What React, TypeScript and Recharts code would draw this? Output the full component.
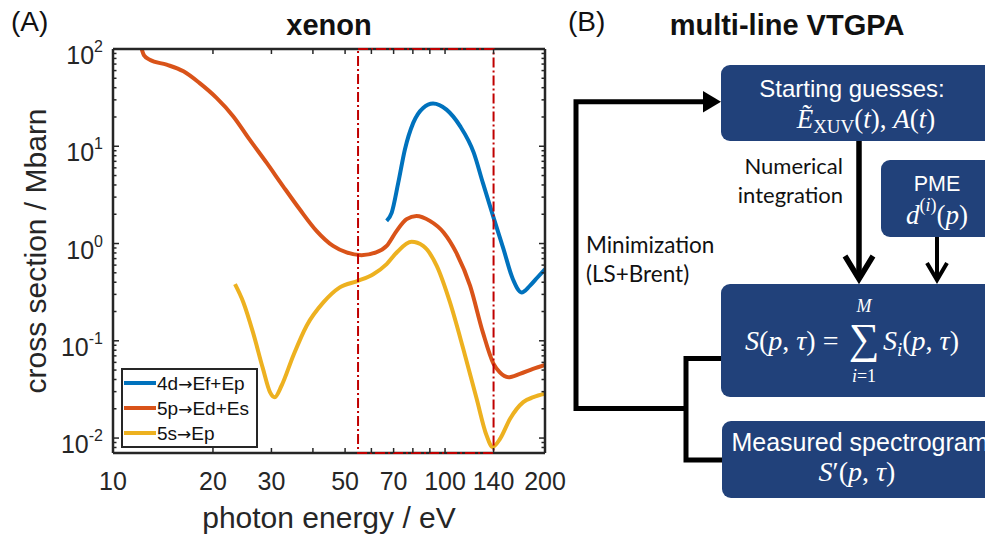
import { LineChart, Line, XAxis, YAxis, ReferenceArea, Legend } from "recharts";

// photoionisation cross sections of xenon
const energy4d = [66.7, 69.1, 72.3, 75.7, 80.2, 85.9, 92, 101, 111, 122, 130, 140, 150, 160, 170, 180, 190, 200];
const sigma4d = [1.71, 2.08, 4.22, 9.27, 17.4, 24.8, 27.5, 23.8, 16.1, 8.6, 4.2, 1.85, 0.875, 0.431, 0.314, 0.367, 0.45, 0.544];

const energy5p = [12.2, 12.4, 12.9, 14.5, 16.3, 18.2, 20.5, 23, 25.8, 29, 32.5, 36.5, 41, 46, 50.5, 56, 62, 66.7, 71.5, 76.6, 82, 90, 99, 108, 119, 130, 140, 146, 155, 168, 184, 200];
const sigma5p = [100, 86, 77.6, 69, 58.9, 44.8, 31.4, 20.4, 11.7, 6.78, 3.9, 2.25, 1.35, 0.944, 0.809, 0.759, 0.809, 0.944, 1.35, 1.78, 1.92, 1.71, 1.3, 0.81, 0.367, 0.122, 0.0578, 0.0475, 0.0422, 0.0457, 0.0514, 0.0565];

const energy5s = [23.3, 24.7, 26.4, 28.3, 29.7, 30.7, 32.2, 34.9, 38.3, 43, 48.2, 54.7, 60.8, 66.7, 71.5, 79.3, 85.9, 94.4, 103.5, 113.5, 124.5, 133.4, 139, 146.4, 157, 172, 184.5, 200];
const sigma5s = [0.382, 0.248, 0.122, 0.0514, 0.0297, 0.0263, 0.0347, 0.0703, 0.143, 0.248, 0.354, 0.413, 0.484, 0.614, 0.809, 1.04, 0.944, 0.589, 0.248, 0.0824, 0.0253, 0.0106, 0.0081, 0.0098, 0.0158, 0.0234, 0.0263, 0.0285];

const xTicks = [10, 20, 30, 40, 50, 60, 70, 80, 90, 100, 140, 200];
const xLabels = [10, 20, 30, 50, 70, 100, 140, 200];
const yMajor = [0.01, 0.1, 1, 10, 100];
const yMinorSteps = [2, 3, 4, 5, 6, 7, 8, 9];
const xDomain = [10, 200];
const yDomain = [0.00702, 100];
const windowEnergy = [54.7, 140]; // red dashed box

const yTicks: number[] = [...yMajor];
[0.001, 0.01, 0.1, 1, 10].forEach((d) =>
  yMinorSteps.forEach((m) => {
    const v = m * d;
    if (v >= yDomain[0] && v < 100) yTicks.push(v);
  })
);

const toRows = (e: number[], s: number[]) => e.map((x, i) => ({ e: x, s: s[i] }));

const AX = "#262626";
const SANS = "'Liberation Sans', Arial, sans-serif";
const SERIF = "'Liberation Serif', 'Times New Roman', serif";
const CAL = "Lato, 'Open Sans', sans-serif";
const BOX = "#21417a";

const BottomTick = ({ x, y, payload }: any) => {
  const major = xLabels.includes(payload.value);
  return (
    <g>
      <line x1={x} x2={x} y1={y} y2={y - 5} stroke={AX} strokeWidth={1.5} />
      {major && (
        <text x={x} y={y + 37} textAnchor="middle" fontSize={25} fontFamily={SANS} fill={AX}>
          {payload.value}
        </text>
      )}
    </g>
  );
};

const TopTick = ({ x, y }: any) => <line x1={x} x2={x} y1={y} y2={y + 5} stroke={AX} strokeWidth={1.5} />;

const LeftTick = ({ x, y, payload }: any) => {
  const major = yMajor.includes(payload.value);
  const exp = Math.round(Math.log10(payload.value));
  return (
    <g>
      <line x1={x} x2={x + (major ? 6 : 3.5)} y1={y} y2={y} stroke={AX} strokeWidth={1.5} />
      {major && (
        <text x={x - 10} y={y + 15} textAnchor="end" fontSize={25} fontFamily={SANS} fill={AX}>
          10
          <tspan fontSize={16} dy={-12}>
            {exp}
          </tspan>
        </text>
      )}
    </g>
  );
};

const RightTick = ({ x, y, payload }: any) => {
  const major = yMajor.includes(payload.value);
  return <line x1={x} x2={x - (major ? 6 : 3.5)} y1={y} y2={y} stroke={AX} strokeWidth={1.5} />;
};

const renderLegend = (props: any) => {
  const items = props.payload || [];
  return (
    <svg width={137} height={80} style={{ display: "block" }}>
      <rect x={1} y={1} width={135} height={78} fill="#fff" stroke={AX} strokeWidth={2} />
      {items.map((it: any, i: number) => {
        const [from, to] = String(it.value).split("→");
        return (
          <g key={it.value}>
            <line x1={3} x2={35} y1={15 + 25 * i} y2={15 + 25 * i} stroke={it.color} strokeWidth={4} />
            <text x={36} y={22 + 25 * i} fontSize={19} fontFamily={SANS} fill="#111">
              {from}
              <tspan fontFamily="'DejaVu Sans', sans-serif" fontSize={17}>→</tspan>
              {to}
            </text>
          </g>
        );
      })}
    </svg>
  );
};

function Flowchart() {
  return (
    <svg width={985} height={538} style={{ position: "absolute", left: 0, top: 0, pointerEvents: "none" }}>
      {/* panel A annotations */}
      <text x={11} y={31} fontSize={28} fontFamily={SANS} fill="#111">(A)</text>
      <text x={329} y={35} fontSize={29} fontWeight="bold" fontFamily={SANS} textAnchor="middle" fill="#111">xenon</text>
      <text x={46} y={251} fontSize={30} fontFamily={SANS} textAnchor="middle" fill={AX} transform="rotate(-90 46 251)">
        cross section / Mbarn
      </text>
      <text x={329} y={528} fontSize={30} fontFamily={SANS} textAnchor="middle" fill={AX}>photon energy / eV</text>

      {/* panel B */}
      <text x={568} y={31} fontSize={28} fontFamily={SANS} fill="#111">(B)</text>
      <text x={787} y={35} fontSize={29} fontWeight="bold" fontFamily={SANS} textAnchor="middle" fill="#111">multi-line VTGPA</text>

      <rect x={721} y={65} width={290} height={76} rx={9} fill={BOX} />
      <rect x={881} y={160} width={130} height={77} rx={9} fill={BOX} />
      <rect x={721} y={284} width={290} height={113} rx={9} fill={BOX} />
      <rect x={722} y={421} width={290} height={77} rx={9} fill={BOX} />

      {/* loop */}
      <polyline points="721,358.6 686,358.6 686,460 722,460" fill="none" stroke="#000" strokeWidth={5} />
      <polyline points="686,408.6 576,408.6 576,101.7 706,101.7" fill="none" stroke="#000" strokeWidth={5} />
      <polygon points="703,91 721,101.7 703,112.5" fill="#000" />

      {/* arrows into the sum box */}
      <line x1={859} x2={859} y1={141} y2={279} stroke="#000" strokeWidth={5.5} />
      <polyline points="845,256 859,279 873,256" fill="none" stroke="#000" strokeWidth={5.5} />
      <line x1={937} x2={937} y1={237} y2={280} stroke="#000" strokeWidth={4} />
      <polyline points="927,263 937,280 947,263" fill="none" stroke="#000" strokeWidth={4} />

      <text x={843} y={174} fontSize={22} fontFamily={CAL} textAnchor="end" fill="#111">Numerical</text>
      <text x={843} y={203} fontSize={22} fontFamily={CAL} textAnchor="end" fill="#111">integration</text>
      <text x={586} y={253} fontSize={22.5} fontFamily={CAL} fill="#111">Minimization</text>
      <text x={586} y={282} fontSize={22.5} fontFamily={CAL} fill="#111">(LS+Brent)</text>

      {/* box texts */}
      <text x={852} y={97} fontSize={24} fontFamily={SANS} textAnchor="middle" fill="#fff">Starting guesses:</text>
      <text x={866} y={128} fontSize={27} fontFamily={SERIF} textAnchor="middle" fill="#fff">
        <tspan fontStyle="italic">Ẽ</tspan>
        <tspan fontSize={19} dy={5}>XUV</tspan>
        <tspan dy={-5}>(</tspan>
        <tspan fontStyle="italic">t</tspan>
        <tspan>), </tspan>
        <tspan fontStyle="italic">A</tspan>
        <tspan>(</tspan>
        <tspan fontStyle="italic">t</tspan>
        <tspan>)</tspan>
      </text>

      <text x={937} y={191} fontSize={21.5} fontFamily={SANS} textAnchor="middle" fill="#fff">PME</text>
      <text x={937} y={224} fontSize={27} fontFamily={SERIF} textAnchor="middle" fill="#fff">
        <tspan fontStyle="italic">d</tspan>
        <tspan fontSize={18} dy={-13}>(</tspan>
        <tspan fontSize={18} fontStyle="italic">i</tspan>
        <tspan fontSize={18}>)</tspan>
        <tspan dy={13}>(</tspan>
        <tspan fontStyle="italic">p</tspan>
        <tspan>)</tspan>
      </text>

      <text x={745} y={350} fontSize={28} fontFamily={SERIF} fill="#fff">
        <tspan fontStyle="italic">S</tspan>
        <tspan>(</tspan>
        <tspan fontStyle="italic">p</tspan>
        <tspan>, </tspan>
        <tspan fontStyle="italic">τ</tspan>
        <tspan>) =</tspan>
      </text>
      <text x={864} y={353} fontSize={43} fontFamily={SERIF} textAnchor="middle" fill="#fff">∑</text>
      <text x={864} y={312} fontSize={18} fontFamily={SERIF} fontStyle="italic" textAnchor="middle" fill="#fff">M</text>
      <text x={864} y={382} fontSize={18} fontFamily={SERIF} textAnchor="middle" fill="#fff">
        <tspan fontStyle="italic">i</tspan>
        <tspan>=1</tspan>
      </text>
      <text x={883} y={350} fontSize={28} fontFamily={SERIF} fill="#fff">
        <tspan fontStyle="italic">S</tspan>
        <tspan fontSize={19} fontStyle="italic" dy={6}>i</tspan>
        <tspan dy={-6}>(</tspan>
        <tspan fontStyle="italic">p</tspan>
        <tspan>, </tspan>
        <tspan fontStyle="italic">τ</tspan>
        <tspan>)</tspan>
      </text>

      <text x={860} y={451} fontSize={25} fontFamily={SANS} textAnchor="middle" fill="#fff">Measured spectrogram</text>
      <text x={857} y={481} fontSize={28} fontFamily={SERIF} textAnchor="middle" fill="#fff">
        <tspan fontStyle="italic">S</tspan>
        <tspan>′(</tspan>
        <tspan fontStyle="italic">p</tspan>
        <tspan>, </tspan>
        <tspan fontStyle="italic">τ</tspan>
        <tspan>)</tspan>
      </text>
    </svg>
  );
}

export default function App() {
  return (
    <div style={{ position: "absolute", left: 0, top: 0, width: 985, height: 538, background: "#fff", overflow: "hidden" }}>
      <LineChart width={600} height={538} margin={{ top: 48, right: 54, bottom: 45, left: 73 }}>
        <XAxis
          dataKey="e"
          type="number"
          scale="log"
          domain={xDomain}
          allowDataOverflow
          ticks={xTicks}
          interval={0}
          height={40}
          tickSize={0}
          tickMargin={0}
          tickLine={false}
          tick={<BottomTick />}
          axisLine={{ stroke: AX, strokeWidth: 2.5 }}
        />
        <XAxis
          xAxisId="top"
          dataKey="e"
          orientation="top"
          type="number"
          scale="log"
          domain={xDomain}
          allowDataOverflow
          ticks={xTicks}
          interval={0}
          height={1}
          tickSize={0}
          tickMargin={0}
          tickLine={false}
          tick={<TopTick />}
          axisLine={{ stroke: AX, strokeWidth: 2.5 }}
        />
        <YAxis
          type="number"
          scale="log"
          domain={yDomain}
          allowDataOverflow
          ticks={yTicks}
          interval={0}
          width={40}
          tickSize={0}
          tickMargin={0}
          tickLine={false}
          tick={<LeftTick />}
          axisLine={{ stroke: AX, strokeWidth: 2.5 }}
        />
        <YAxis
          yAxisId="right"
          orientation="right"
          type="number"
          scale="log"
          domain={yDomain}
          allowDataOverflow
          ticks={yTicks}
          interval={0}
          width={1}
          tickSize={0}
          tickMargin={0}
          tickLine={false}
          tick={<RightTick />}
          axisLine={{ stroke: AX, strokeWidth: 2.5 }}
        />
        <Line data={toRows(energy4d, sigma4d)} dataKey="s" name="4d→Ef+Ep" type="monotone" stroke="#0072BD" strokeWidth={4} dot={false} isAnimationActive={false} />
        <Line data={toRows(energy5p, sigma5p)} dataKey="s" name="5p→Ed+Es" type="monotone" stroke="#D95319" strokeWidth={4} dot={false} isAnimationActive={false} />
        <Line data={toRows(energy5s, sigma5s)} dataKey="s" name="5s→Ep" type="monotone" stroke="#EDB120" strokeWidth={4} dot={false} isAnimationActive={false} />
        <ReferenceArea
          x1={windowEnergy[0]}
          x2={windowEnergy[1]}
          y1={yDomain[0]}
          y2={yDomain[1]}
          fill="none"
          stroke="#C00000"
          strokeWidth={2}
          strokeDasharray="10 3 2 3"
          ifOverflow="visible"
          zIndex={1500}
        />
        <Legend
          layout="vertical"
          align="center"
          verticalAlign="middle"
          content={renderLegend}
          wrapperStyle={{ left: 121, top: 368, width: 137, height: 80 }}
        />
      </LineChart>
      <Flowchart />
    </div>
  );
}
